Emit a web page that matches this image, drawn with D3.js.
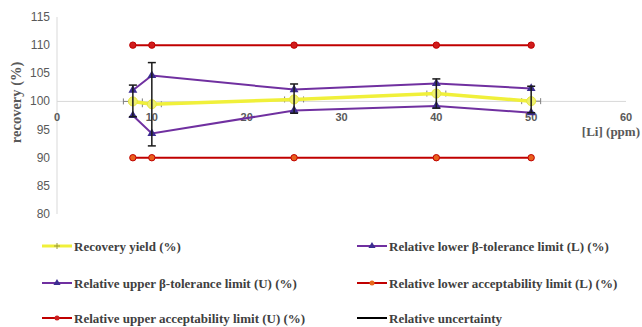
<!DOCTYPE html>
<html>
<head>
<meta charset="utf-8">
<title>Recovery chart</title>
<script src="https://d3js.org/d3.v7.min.js"></script>
<style>
  body { margin: 0; background: #fff; }
  .tick-y { font-family: "Liberation Sans", Arial, sans-serif; font-size: 12px; fill: #595959; }
  .tick-x { font-family: "Liberation Sans", Arial, sans-serif; font-size: 11px; font-weight: bold; fill: #595959; }
  .title { font-family: "Liberation Serif", "Times New Roman", serif; font-size: 13px; font-weight: bold; fill: #595959; }
  .legend text { font-family: "Liberation Serif", "Times New Roman", serif; font-size: 13px; font-weight: bold; fill: #404040; }
</style>
</head>
<body>
<svg width="642" height="327"></svg>
<script>
// data
var conc = [8, 10, 25, 40, 50];
var recovery = [100.0, 99.5, 100.35, 101.4, 100.05];
var upperTol = [102.0, 104.6, 102.1, 103.2, 102.3];
var lowerTol = [97.5, 94.3, 98.4, 99.2, 98.0];
var upperAcc = [110, 110, 110, 110, 110];
var lowerAcc = [90, 90, 90, 90, 90];
var uncLow = [97.3, 92.1, 97.9, 98.8, 98.0];
var uncHigh = [102.9, 106.9, 103.1, 104.0, 102.7];
var concErr = 1;
var xTicks = [0, 10, 20, 30, 40, 50, 60];
var yTicks = [80, 85, 90, 95, 100, 105, 110, 115];

var svg = d3.select("svg");

var x = d3.scaleLinear().domain([0, 60]).range([57, 626]);
var y = d3.scaleLinear().domain([80, 115]).range([214, 17]);

// axes lines
svg.append("line").attr("x1", x(0)).attr("x2", x(0))
    .attr("y1", y(115)).attr("y2", y(80))
    .attr("stroke", "#d9d9d9");
svg.append("line").attr("x1", x(0)).attr("x2", x(60))
    .attr("y1", y(100)).attr("y2", y(100))
    .attr("stroke", "#d9d9d9");

// tick labels
svg.selectAll(".tick-y").data(yTicks).enter().append("text")
    .attr("class", "tick-y")
    .attr("x", 50).attr("y", function (d) { return y(d) + 4; })
    .attr("text-anchor", "end")
    .text(function (d) { return d; });

svg.selectAll(".tick-x").data(xTicks).enter().append("text")
    .attr("class", "tick-x")
    .attr("x", function (d) { return x(d); }).attr("y", y(100) + 20)
    .attr("text-anchor", "middle")
    .text(function (d) { return d; });

// axis titles
svg.append("text").attr("class", "title")
    .attr("transform", "translate(21," + (y(100) + 1) + ") rotate(-90)")
    .attr("text-anchor", "middle")
    .style("font-size", "14.5px")
    .text("recovery (%)");
svg.append("text").attr("class", "title")
    .attr("x", 640).attr("y", y(100) + 35)
    .attr("text-anchor", "end")
    .text("[Li] (ppm)");

var line = function (vals) {
    return d3.line()
        .x(function (d, i) { return x(conc[i]); })
        .y(function (d) { return y(d); })(vals);
};

var tri = d3.symbol().type(d3.symbolTriangle).size(34);

// acceptability limits
[[upperAcc, "#d01c1c"], [lowerAcc, "#e8601c"]].forEach(function (s) {
    svg.append("path").attr("d", line(s[0]))
        .attr("fill", "none").attr("stroke", "#c00000").attr("stroke-width", 2);
    svg.selectAll(null).data(s[0]).enter().append("circle")
        .attr("cx", function (d, i) { return x(conc[i]); })
        .attr("cy", function (d) { return y(d); })
        .attr("r", 3.2)
        .attr("fill", s[1]).attr("stroke", "#c00000").attr("stroke-width", 1);
});

// tolerance limits
[upperTol, lowerTol].forEach(function (vals) {
    svg.append("path").attr("d", line(vals))
        .attr("fill", "none").attr("stroke", "#7030a0").attr("stroke-width", 2);
    svg.selectAll(null).data(vals).enter().append("path")
        .attr("d", tri)
        .attr("transform", function (d, i) { return "translate(" + x(conc[i]) + "," + y(d) + ")"; })
        .attr("fill", "#3c2d91");
});

// horizontal uncertainty on concentration
var hErr = svg.append("g").attr("stroke", "#7f7f7f").attr("stroke-width", 1);
recovery.forEach(function (v, i) {
    var x0 = x(conc[i] - concErr), x1 = x(conc[i] + concErr), yy = y(v);
    hErr.append("line").attr("x1", x0).attr("x2", x1).attr("y1", yy).attr("y2", yy);
    hErr.append("line").attr("x1", x0).attr("x2", x0).attr("y1", yy - 3).attr("y2", yy + 3);
    hErr.append("line").attr("x1", x1).attr("x2", x1).attr("y1", yy - 3).attr("y2", yy + 3);
});

// recovery yield
svg.append("path").attr("d", line(recovery))
    .attr("fill", "none").attr("stroke", "#f0f03a").attr("stroke-width", 3.5);
svg.selectAll(null).data(recovery).enter().append("circle")
    .attr("cx", function (d, i) { return x(conc[i]); })
    .attr("cy", function (d) { return y(d); })
    .attr("r", 4.5).attr("fill", "#eef070").attr("stroke", "#e6e640");

// relative uncertainty
var vErr = svg.append("g").attr("stroke", "#1a1a1a").attr("stroke-width", 1.5);
conc.forEach(function (c, i) {
    var xx = x(c);
    vErr.append("line").attr("x1", xx).attr("x2", xx).attr("y1", y(uncLow[i])).attr("y2", y(uncHigh[i]));
    vErr.append("line").attr("x1", xx - 4).attr("x2", xx + 4).attr("y1", y(uncHigh[i])).attr("y2", y(uncHigh[i]));
    vErr.append("line").attr("x1", xx - 4).attr("x2", xx + 4).attr("y1", y(uncLow[i])).attr("y2", y(uncLow[i]));
});

// legend
var legendItems = [
    { label: "Recovery yield (%)", col: 0, row: 0, color: "#f0f03a", mark: "plus" },
    { label: "Relative lower \u03b2-tolerance limit (L) (%)", col: 1, row: 0, color: "#7030a0", mark: "tri" },
    { label: "Relative upper \u03b2-tolerance limit (U) (%)", col: 0, row: 1, color: "#7030a0", mark: "tri" },
    { label: "Relative lower acceptability limit (L) (%)", col: 1, row: 1, color: "#c00000", mark: "dotL" },
    { label: "Relative upper acceptability limit (U) (%)", col: 0, row: 2, color: "#c00000", mark: "dotU" },
    { label: "Relative uncertainty", col: 1, row: 2, color: "#000", mark: "none" }
];
var colX = [42, 357];
var rowY = [246, 283, 318];

var legend = svg.append("g").attr("class", "legend");
legendItems.forEach(function (d) {
    var g = legend.append("g")
        .attr("transform", "translate(" + colX[d.col] + "," + rowY[d.row] + ")");
    g.append("line").attr("x1", 0).attr("x2", 30).attr("y1", 0).attr("y2", 0)
        .attr("stroke", d.color).attr("stroke-width", d.mark === "plus" ? 3 : 2);
    if (d.mark === "plus") {
        g.append("path").attr("d", "M12,0H18M15,-3V3").attr("stroke", "#9a9a40").attr("stroke-width", 1);
    } else if (d.mark === "tri") {
        g.append("path").attr("d", d3.symbol().type(d3.symbolTriangle).size(22)())
            .attr("transform", "translate(15,0)").attr("fill", "#3c2d91");
    } else if (d.mark === "dotU" || d.mark === "dotL") {
        g.append("circle").attr("cx", 15).attr("cy", 0).attr("r", 2.5)
            .attr("fill", d.mark === "dotU" ? "#cc1f1f" : "#e86a1c");
    }
    g.append("text").attr("x", 32).attr("y", 4.5).text(d.label);
});
</script>
</body>
</html>
